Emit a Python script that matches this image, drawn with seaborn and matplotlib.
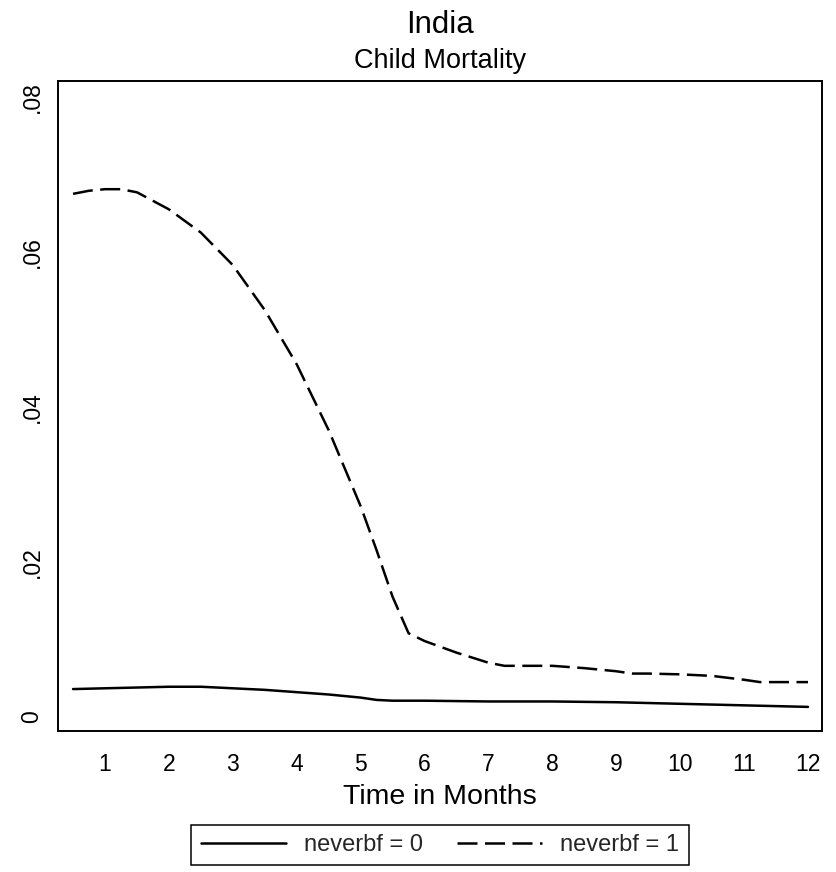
import matplotlib
matplotlib.use("Agg")
import matplotlib.pyplot as plt
import numpy as np
import pandas as pd
import seaborn as sns

# ---- data ----
months_bf0 = [0.5, 1.0, 1.5, 2.0, 2.5, 3.0, 3.5, 4.0, 4.5, 5.0, 5.25, 5.5, 6.0, 7.0, 8.0, 9.0, 10.0, 11.0, 12.0]
rate_bf0 = [0.0036, 0.0037, 0.0038, 0.0039, 0.0039, 0.0037, 0.0035, 0.0032, 0.0029, 0.0025, 0.0022, 0.0021,
            0.0021, 0.0020, 0.0020, 0.0019, 0.0017, 0.0015, 0.0013]

months_bf1 = [0.5, 0.75, 1.0, 1.25, 1.5, 2.0, 2.5, 3.0, 3.5, 4.0, 4.5, 5.0, 5.25, 5.5, 5.75, 6.0, 6.5, 7.0,
              7.25, 7.5, 8.0, 8.5, 9.0, 9.25, 9.5, 10.0, 10.5, 11.0, 11.25, 11.5, 12.0]
rate_bf1 = [0.0675, 0.0679, 0.0681, 0.0681, 0.0677, 0.0655, 0.0625, 0.0583, 0.0525, 0.0455, 0.0370, 0.0272,
            0.0215, 0.0155, 0.0108, 0.0098, 0.0083, 0.0070, 0.0066, 0.0066, 0.0066, 0.0063, 0.0059, 0.0056,
            0.0056, 0.0055, 0.0053, 0.0048, 0.0045, 0.0045, 0.0045]

group_labels = ["neverbf = 0", "neverbf = 1"]
x_ticks = list(range(1, 13))
y_ticks = [0, 0.02, 0.04, 0.06, 0.08]
y_tick_labels = ["0", ".02", ".04", ".06", ".08"]
title = "India"
subtitle = "Child Mortality"
x_label = "Time in Months"

df = pd.concat([
    pd.DataFrame({"month": months_bf0, "rate": rate_bf0, "group": group_labels[0]}),
    pd.DataFrame({"month": months_bf1, "rate": rate_bf1, "group": group_labels[1]}),
], ignore_index=True)

# ---- style ----
sns.set_style("white")
plt.rcParams["font.family"] = ["Liberation Sans", "DejaVu Sans"]

W, H = 837, 872
fig = plt.figure(figsize=(W / 100, H / 100), dpi=100)
fig.patch.set_facecolor("white")
ax = fig.add_axes([58 / W, 1 - 731 / H, (822 - 58) / W, (731 - 81) / H])

sns.lineplot(data=df, x="month", y="rate", style="group",
             dashes={group_labels[0]: "", group_labels[1]: (8.0, 3.0)},
             color="black", linewidth=1.8, errorbar=None, legend=False, ax=ax)

ax.set_xlim(0.2645, 12.219)
ax.set_ylim(-0.00181, 0.08206)
ax.set_xticks(x_ticks)
ax.set_xticklabels([str(t) for t in x_ticks])
ax.set_yticks(y_ticks)
ax.set_yticklabels(y_tick_labels, rotation=90, va="center")

for s in ax.spines.values():
    s.set_visible(True)
    s.set_color("black")
    s.set_linewidth(1.4)

ax.tick_params(axis="both", direction="out", length=6.5, width=1.0, color="black",
               labelcolor="black", labelsize=16.5)
ax.tick_params(axis="x", pad=9)
ax.tick_params(axis="y", pad=4)
ax.set_xlabel(x_label, fontsize=20.5, labelpad=6, color="black")
ax.set_ylabel("")
ax.grid(False)

cx = (58 + 822) / 2 / W
fig.text(cx, 1 - 33 / H, title, ha="center", va="baseline", fontsize=22.5, color="black")
fig.text(cx, 1 - 68 / H, subtitle, ha="center", va="baseline", fontsize=19.5, color="black")

leg = fig.legend(ax.lines[:2], group_labels, loc="center", bbox_to_anchor=(cx, 1 - 845 / H),
                 ncol=2, fontsize=17, handlelength=3.6, handletextpad=0.8, columnspacing=1.4,
                 borderpad=0.4, fancybox=False, frameon=True, edgecolor="black")
leg.get_frame().set_linewidth(1.1)
leg.get_frame().set_alpha(1)

fig.savefig("out.png", dpi=100, facecolor="white")
